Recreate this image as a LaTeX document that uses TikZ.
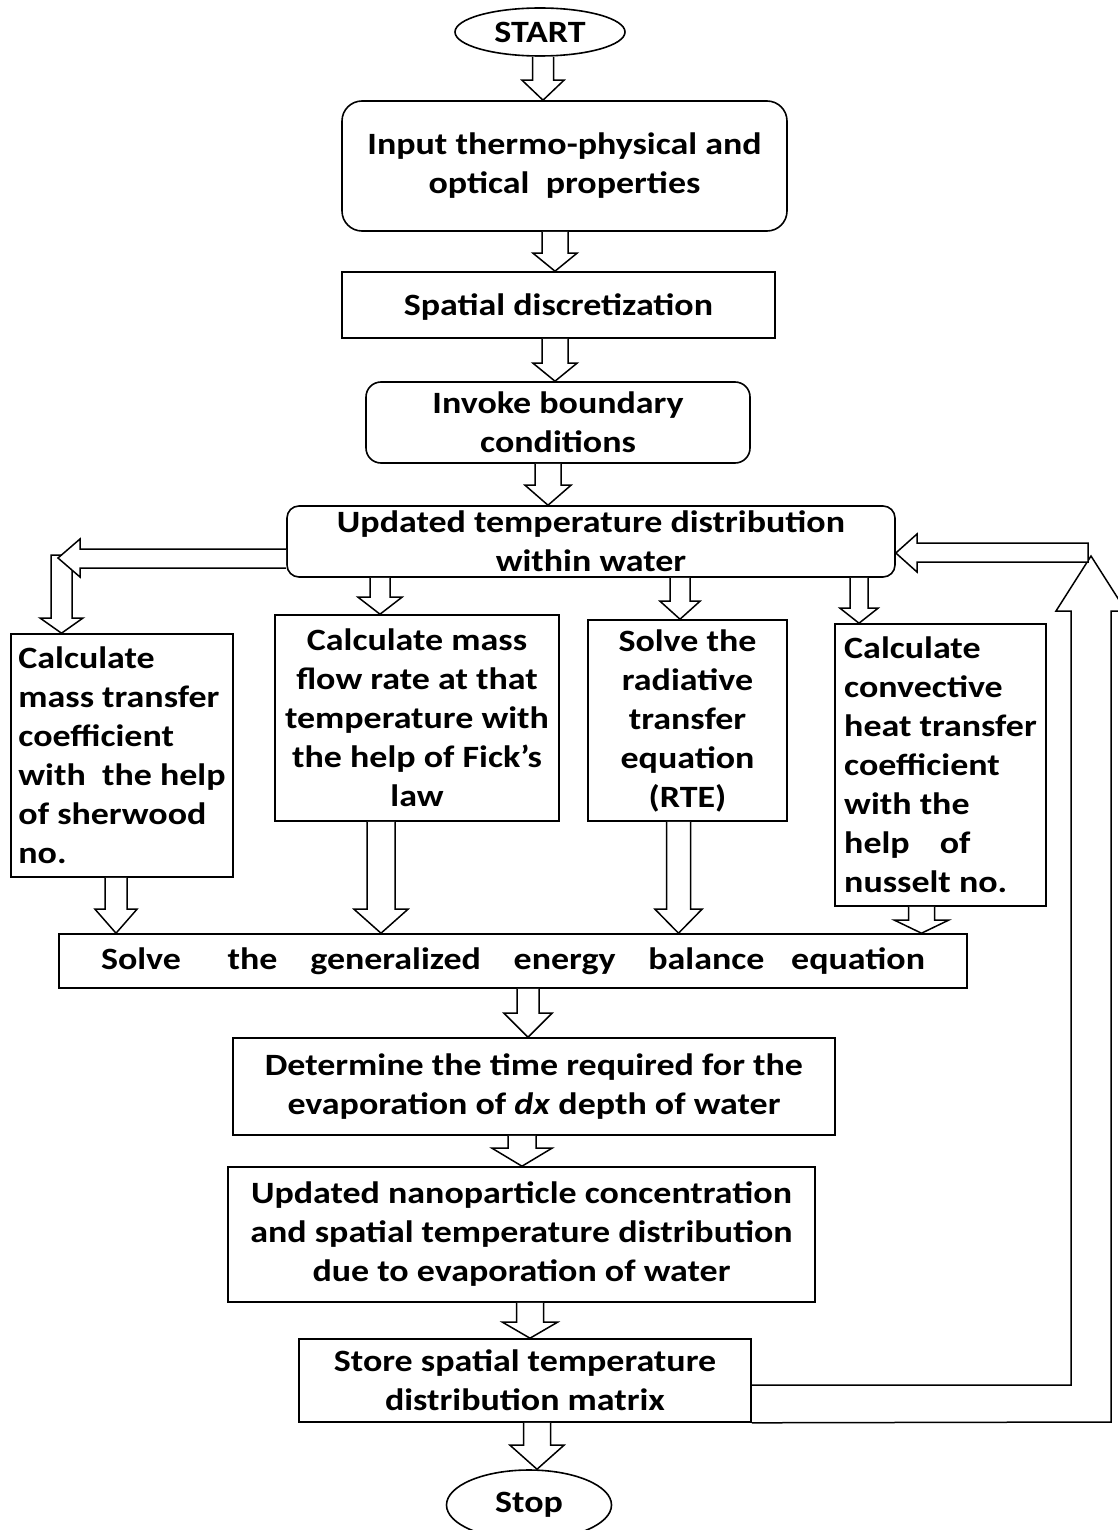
\documentclass[tikz,border=0pt]{standalone}
\usepackage{fontspec}
\setmainfont{Carlito}[FakeStretch=1.16]
\usetikzlibrary{calc,shapes.geometric}
\tikzset{
  base/.style={draw=black, line width=1.6pt, inner sep=0pt, align=center,
    font=\fontsize{31}{39}\selectfont\bfseries},
  boxr/.style={base, rectangle},
  boxround/.style={base, rectangle, rounded corners=#1},
  term/.style={base, ellipse},
  blk/.style={draw=black, line width=1.5pt, fill=white, line join=miter},
  loopline/.style={draw=black, line width=1.5pt, line join=miter}
}
\newcommand\blkdown[6]{%
  \pgfmathsetmacro\xa{#3-#4}\pgfmathsetmacro\xb{#3+#4}%
  \pgfmathsetmacro\xc{#3-#5}\pgfmathsetmacro\xd{#3+#5}%
  \draw[blk] (#1 -| \xa,0) -- ($(#2 -| \xa,0)+(0,-#6)$) -- ($(#2 -| \xc,0)+(0,-#6)$)
    -- (#2 -| #3,0) -- ($(#2 -| \xd,0)+(0,-#6)$) -- ($(#2 -| \xb,0)+(0,-#6)$)
    -- (#1 -| \xb,0);}
\begin{document}
\begin{tikzpicture}[x=1pt,y=-1pt]
\useasboundingbox (0,0) rectangle (1117,1530);
% nodes
\node[term, minimum width=170, minimum height=48] (start) at (540,32) {START};
\node[boxround=20, minimum width=445, minimum height=130] (input) at (564.5,166)
  {Input thermo-physical and\\optical\ \ properties};
\node[boxr, minimum width=433, minimum height=66] (spatial) at (558.5,305) {\rule{0pt}{26pt}Spatial discretization};
\node[boxround=15, minimum width=384, minimum height=81] (invoke) at (558,422.5)
  {Invoke boundary\\conditions};
\node[boxround=12, minimum width=608, minimum height=71] (updated) at (591,541.5)
  {Updated temperature distribution\\within water};
\node[boxr, align=left, minimum width=222, minimum height=243] (masscoef) at (122,755.5)
  {Calculate\\mass transfer\\coefficient\\with\ \ the help\\of sherwood\\no.};
\node[boxr, minimum width=284, minimum height=206] (massflow) at (417,718)
  {Calculate mass\\flow rate at that\\temperature with\\the help of Fick’s\\law};
\node[boxr, minimum width=199, minimum height=201] (rte) at (687.5,720.5)
  {Solve the\\radiative\\transfer\\equation\\(RTE)};
\node[boxr, align=left, minimum width=211, minimum height=282] (conv) at (940.5,765)
  {Calculate\\convective\\heat transfer\\coefficient\\with the\\help\hspace{30pt}of\\nusselt no.};
\node[boxr, minimum width=908, minimum height=54] (solve) at (513,961)
  {\makebox[824pt][s]{Solve\hspace{14pt}\hfill the\hfill generalized\hfill energy\hfill balance\hspace{-6pt}\hfill equation}};
\node[boxr, minimum width=602, minimum height=97] (determine) at (534,1086.5)
  {Determine the time required for the\\evaporation of \textit{dx} depth of water};
\node[boxr, minimum width=587, minimum height=135] (nano) at (521.5,1234.5)
  {Updated nanoparticle concentration\\and spatial temperature distribution\\due to evaporation of water};
\node[boxr, minimum width=452, minimum height=83] (store) at (525,1380.5)
  {Store spatial temperature\\distribution matrix};
\node[term, minimum width=165, minimum height=70] (stop) at (529,1505) {Stop};
% block arrows down
\blkdown{start.south}{input.north}{543}{10.5}{21}{20}
\blkdown{input.south}{spatial.north}{555}{13}{22}{18}
\blkdown{spatial.south}{invoke.north}{555}{13}{22}{18}
\blkdown{invoke.south}{updated.north}{548}{13}{23}{20}
\blkdown{updated.south}{massflow.north}{380}{10}{22}{17}
\blkdown{updated.south}{rte.north}{680}{10}{20}{18}
\blkdown{updated.south}{conv.north}{859}{9}{19}{15}
\blkdown{masscoef.south}{solve.north}{116}{11}{21}{24}
\blkdown{massflow.south}{solve.north}{381}{14}{27}{24}
\blkdown{rte.south}{solve.north}{678.5}{12}{23.5}{24}
\blkdown{conv.south}{solve.north}{921.5}{13}{27}{13}
\blkdown{solve.south}{determine.north}{528}{11}{24}{24}
\blkdown{determine.south}{nano.north}{522}{14}{30}{18}
\blkdown{nano.south}{store.north}{530}{13.5}{27.5}{16}
\blkdown{store.south}{stop.north}{537}{13.5}{27}{24}
% left branch: updated -> mass transfer coefficient
\draw[blk] (51,555) -- (51,618) -- (40,618) -- (masscoef.north -| 61.5,0) -- (83,618) -- (72,618) -- (72,555) -- cycle;
\draw[blk] (updated.west |- 0,549) -- (80,549) -- (80,539) -- (58,558) -- (80,577) -- (80,568) -- (updated.west |- 0,568);
% feedback loop: store -> updated
\draw[loopline] (store.east |- 0,1385) -- (1071,1385) -- (1071,611) -- (1056,611) -- (1091,556)
  -- (1126,611) -- (1111,611) -- (1111,1422) -- (store.south east);
\draw[blk] (1088,543) -- (917,543) -- (917,534) -- (updated.east |- 0,553) -- (917,572) -- (917,562) -- (1088,562) -- cycle;
\end{tikzpicture}
\end{document}
